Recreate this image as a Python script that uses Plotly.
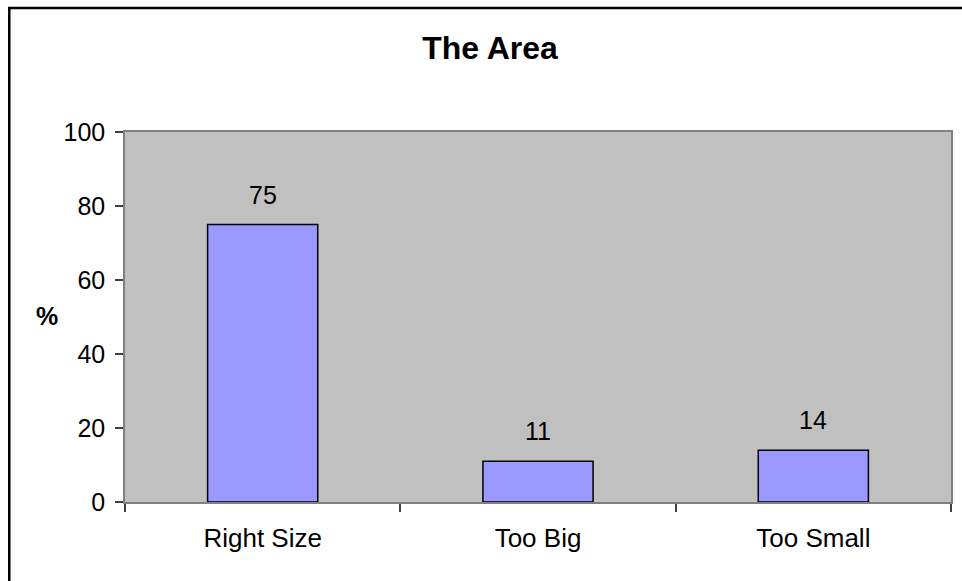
import plotly.graph_objects as go

categories = ["Right Size", "Too Big", "Too Small"]
values = [75, 11, 14]
y_ticks = [0, 20, 40, 60, 80, 100]
title_text = "The Area"
y_title = "%"

FONT = "Liberation Sans, Arial, sans-serif"
W, H = 962, 581
L, R, T, B = 125, 9, 132, 79
pw = W - L - R
ph = H - T - B

fig = go.Figure()
fig.add_trace(go.Bar(
    x=categories, y=values, width=0.4,
    marker=dict(color="#9999FF", line=dict(color="#000000", width=1.5)),
    hoverinfo="x+y",
))

for c, v in zip(categories, values):
    fig.add_annotation(x=c, y=v, text=str(v), showarrow=False,
                       yanchor="bottom", yshift=14,
                       font=dict(family=FONT, size=25, color="#000000"))

# y axis title
fig.add_annotation(xref="paper", yref="paper", x=(47 - L) / pw, y=(H - B - 316) / ph,
                   text="<b>" + y_title + "</b>", showarrow=False,
                   xanchor="center", yanchor="middle",
                   font=dict(family=FONT, size=25, color="#000000"))

def px_x(p):
    return (p - L) / pw

def px_y(p):
    return (H - B - p) / ph

# outer chart border (extends beyond the visible frame)
fig.add_shape(type="rect", xref="paper", yref="paper",
              x0=px_x(9), x1=px_x(990), y0=px_y(610), y1=px_y(8),
              line=dict(color="#000000", width=2.5), fillcolor="rgba(0,0,0,0)",
              layer="above")

fig.update_layout(
    width=W, height=H,
    margin=dict(l=L, r=R, t=T, b=B),
    paper_bgcolor="#FFFFFF",
    plot_bgcolor="#C0C0C0",
    showlegend=False,
    bargap=0.6,
    title=dict(text="<b>" + title_text + "</b>", x=490 / W, xref="container",
               xanchor="center", y=1 - 48 / H, yref="container", yanchor="middle",
               font=dict(family=FONT, size=32, color="#000000")),
    font=dict(family=FONT, size=25, color="#000000"),
)
fig.update_xaxes(
    showgrid=False, showline=True, linecolor="#808080", linewidth=1.5, mirror=True,
    ticks="outside", ticklen=8, tickcolor="#404040", tickwidth=1.5,
    tickson="boundaries", ticklabelstandoff=12,
    tickfont=dict(family=FONT, size=26, color="#000000"),
)
fig.update_yaxes(
    range=[0, 100], tickvals=y_ticks, showgrid=False, zeroline=False,
    showline=True, linecolor="#808080", linewidth=1.5, mirror=True,
    ticks="outside", ticklen=8, tickcolor="#404040", tickwidth=1.5,
    ticklabelstandoff=5,
    tickfont=dict(family=FONT, size=25, color="#000000"),
)

fig.write_html("out.html", config={"displayModeBar": False},
               post_script="document.body.style.margin='0';")
